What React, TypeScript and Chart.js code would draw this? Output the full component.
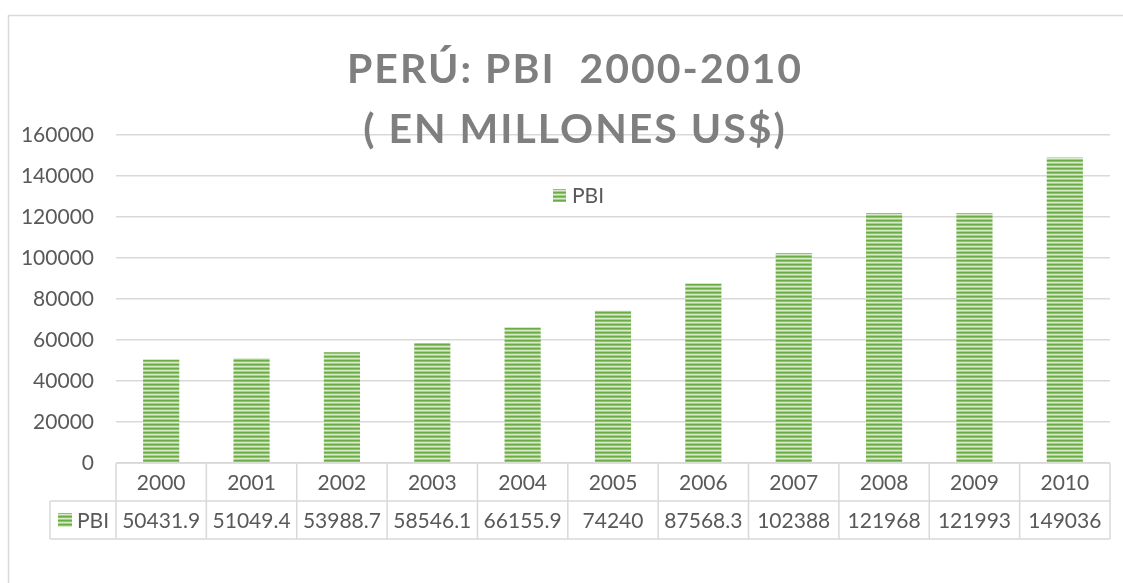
import React, { useEffect, useRef } from "react";
import { Chart, registerables } from "chart.js";

Chart.register(...registerables);

const categories = ["2000", "2001", "2002", "2003", "2004", "2005", "2006", "2007", "2008", "2009", "2010"];
const pbiValues = [50431.9, 51049.4, 53988.7, 58546.1, 66155.9, 74240, 87568.3, 102388, 121968, 121993, 149036];
const valueLabels = ["50431.9", "51049.4", "53988.7", "58546.1", "66155.9", "74240", "87568.3", "102388", "121968", "121993", "149036"];
const seriesName = "PBI";
const titleLines = ["PERÚ: PBI  2000-2010", "( EN MILLONES US$)"];
const yMin = 0;
const yMax = 160000;
const yStep = 20000;

const TEXT = "#595959";
const GRID = "#D9D9D9";
const FONT = "Lato, 'Open Sans', sans-serif";

function makeStripePattern(): CanvasPattern | string {
  const off = document.createElement("canvas");
  off.width = 4;
  off.height = 4;
  const c = off.getContext("2d");
  if (!c) return "#70AD47";
  const rows = ["#6CAC44", "#8DC36C", "#D6EBC7", "#A6D18A"];
  rows.forEach((col, i) => {
    c.fillStyle = col;
    c.fillRect(0, i, 4, 1);
  });
  const main = document.createElement("canvas").getContext("2d");
  const p = main ? main.createPattern(off, "repeat") : null;
  return p || "#70AD47";
}

export default function App() {
  const ref = useRef<HTMLCanvasElement | null>(null);

  useEffect(() => {
    const canvas = ref.current;
    if (!canvas) return;
    const pattern = makeStripePattern();

    const decor = {
      id: "decor",
      beforeDraw(chart: any) {
        const ctx = chart.ctx;
        ctx.save();
        ctx.fillStyle = "#FFFFFF";
        ctx.fillRect(0, 0, chart.width, chart.height);
        ctx.strokeStyle = GRID;
        ctx.lineWidth = 1.5;
        ctx.beginPath();
        ctx.moveTo(8.5, chart.height + 2);
        ctx.lineTo(8.5, 15.5);
        ctx.lineTo(chart.width + 2, 15.5);
        ctx.stroke();
        ctx.restore();
      },
      afterDraw(chart: any) {
        const ctx = chart.ctx;
        const area = chart.chartArea;
        const xs = chart.scales.x;
        const n = categories.length;
        const colW = (area.right - area.left) / n;
        ctx.save();

        // Title
        ctx.fillStyle = "#7F7F7F";
        ctx.font = `bold 41px ${FONT}`;
        (ctx as any).letterSpacing = "2px";
        ctx.textAlign = "center";
        ctx.textBaseline = "middle";
        ctx.fillText(titleLines[0], 575, 70);
        ctx.fillText(titleLines[1], 575, 130);
        (ctx as any).letterSpacing = "0px";

        // Legend
        ctx.fillStyle = pattern as any;
        ctx.fillRect(553, 189, 13, 13);
        ctx.fillStyle = TEXT;
        ctx.font = `21px ${FONT}`;
        ctx.textAlign = "left";
        ctx.fillText(seriesName, 572, 196);

        // Data table
        const r0 = area.bottom;
        const r1 = r0 + 38;
        const r2 = r1 + 38;
        const legLeft = 50;
        ctx.strokeStyle = GRID;
        ctx.lineWidth = 1.5;
        ctx.beginPath();
        ctx.moveTo(area.left, r0);
        ctx.lineTo(area.right, r0);
        ctx.moveTo(legLeft, r1);
        ctx.lineTo(area.right, r1);
        ctx.moveTo(legLeft, r2);
        ctx.lineTo(area.right, r2);
        ctx.moveTo(legLeft, r1);
        ctx.lineTo(legLeft, r2);
        for (let k = 0; k <= n; k++) {
          const x = area.left + k * colW;
          ctx.moveTo(x, r0);
          ctx.lineTo(x, r2);
        }
        ctx.stroke();

        ctx.fillStyle = TEXT;
        ctx.font = `21px ${FONT}`;
        ctx.textAlign = "center";
        ctx.textBaseline = "middle";
        for (let i = 0; i < n; i++) {
          const cx = xs.getPixelForValue(i);
          ctx.fillText(categories[i], cx, (r0 + r1) / 2 + 1);
          ctx.fillText(valueLabels[i], cx, (r1 + r2) / 2 + 1);
        }
        ctx.fillStyle = pattern as any;
        ctx.fillRect(58, (r1 + r2) / 2 - 7, 14, 14);
        ctx.fillStyle = TEXT;
        ctx.textAlign = "left";
        ctx.fillText(seriesName, 77, (r1 + r2) / 2 + 1);
        ctx.restore();
      },
    };

    const chart = new Chart(canvas, {
      type: "bar",
      data: {
        labels: categories,
        datasets: [
          {
            label: seriesName,
            data: pbiValues,
            backgroundColor: pattern as any,
            borderWidth: 0,
            barPercentage: 0.4,
            categoryPercentage: 1,
          },
        ],
      },
      options: {
        responsive: false,
        animation: false,
        layout: { padding: { left: 8, right: 13, top: 135, bottom: 120 } },
        plugins: {
          legend: { display: false },
          title: { display: false },
          tooltip: { enabled: false },
        },
        scales: {
          x: {
            display: false,
            offset: true,
            grid: { display: false },
          },
          y: {
            min: yMin,
            max: yMax,
            border: { display: false },
            grid: { color: GRID, lineWidth: 1.5, drawTicks: false },
            ticks: {
              stepSize: yStep,
              color: TEXT,
              padding: 22,
              font: { family: FONT, size: 21 },
              callback: (v: any) => String(v),
            },
            afterFit(s: any) {
              s.width = 108;
            },
          },
        },
      },
      plugins: [decor],
    });
    return () => chart.destroy();
  }, []);

  return (
    <div style={{ position: "fixed", left: 0, top: 0, width: 1123, height: 583, background: "#fff" }}>
      <canvas ref={ref} width={1123} height={583} style={{ display: "block" }} />
    </div>
  );
}
